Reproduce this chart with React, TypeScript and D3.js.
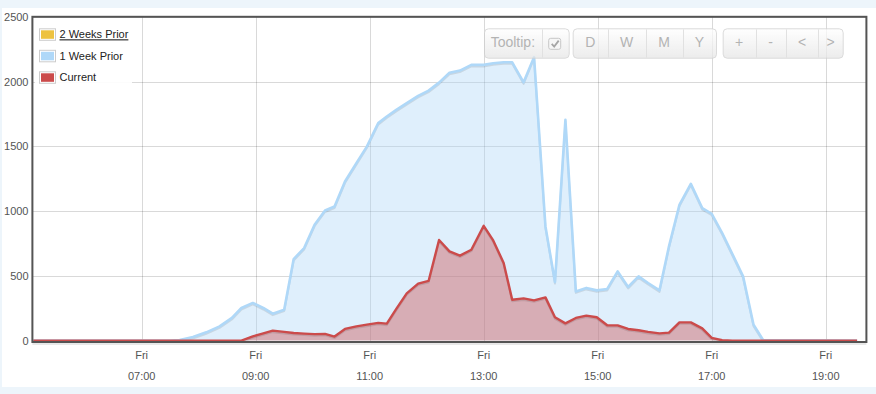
import React from "react";
import * as d3 from "d3";

// ---- data ----
const times = [
  "05:06", "07:30", "07:40", "07:54", "08:08", "08:22", "08:35", "08:45", "08:57", "09:08",
  "09:18", "09:30", "09:40", "09:51", "10:02", "10:13", "10:23", "10:34", "10:46", "10:57",
  "11:09", "11:18", "11:28", "11:39", "11:51", "12:02", "12:13", "12:24", "12:35", "12:47",
  "13:00", "13:10", "13:21", "13:30", "13:42", "13:53", "14:05", "14:15", "14:26", "14:37",
  "14:48", "14:59", "15:10", "15:21", "15:32", "15:43", "15:53", "16:05", "16:15", "16:26",
  "16:38", "16:50", "17:00", "17:11", "17:22", "17:33", "17:44", "17:54", "19:33",
];

const weekPrior = [
  0, 0, 5, 28, 64, 110, 175, 252, 291, 252,
  208, 239, 630, 715, 895, 1005, 1036, 1229, 1371, 1499,
  1680, 1731, 1782, 1834, 1890, 1931, 1993, 2070, 2086, 2130,
  2130, 2143, 2150, 2150, 1995, 2190, 882, 452, 1705, 380,
  407, 388, 399, 535, 414, 496, 445, 388, 728, 1049,
  1211, 1024, 980, 831, 664, 496, 123, 5, 0,
];

const current = [
  0, 0, 0, 0, 0, 0, 0, 0, 33, 56,
  77, 67, 59, 54, 50, 52, 31, 90, 110, 123,
  137, 131, 245, 365, 440, 461, 777, 689, 656, 702,
  887, 774, 600, 316, 326, 311, 334, 180, 133, 175,
  193, 180, 118, 118, 90, 80, 67, 56, 62, 141,
  141, 94, 21, 3, 0, 0, 0, 0, 0,
];

const xTicks = ["07:00", "09:00", "11:00", "13:00", "15:00", "17:00", "19:00"];
const yTicks = [0, 500, 1000, 1500, 2000, 2500];
const legendNames = ["2 Weeks Prior", "1 Week Prior", "Current"];
const legendColors = ["#edc240", "#afd8f8", "#cb4b4b"];
const toolbarLabels = [
  ["Tooltip:", "check"],
  ["D", "W", "M", "Y"],
  ["+", "-", "<", ">"],
];

const DAY = "2014-01-03"; // a Friday
const parseT = d3.timeParse("%Y-%m-%d %H:%M");
const toDate = (t: string) => parseT(`${DAY} ${t}`) as Date;

const FONT = "'Liberation Sans', Arial, sans-serif";

export default function App() {
  const x = d3
    .scaleTime()
    .domain([toDate("05:05"), toDate("19:43")])
    .range([32.4, 866.6]);
  const y = d3.scaleLinear().domain([0, 2500]).range([340.6, 17]);

  const fmtDay = d3.timeFormat("%a");
  const fmtTime = d3.timeFormat("%H:%M");

  const blue = times.map((t, i) => ({ d: toDate(t), v: weekPrior[i] }));
  const red = times.map((t, i) => ({ d: toDate(t), v: current[i] }));

  const area = d3
    .area<{ d: Date; v: number }>()
    .x((p) => x(p.d))
    .y0(y(0))
    .y1((p) => y(p.v));
  const line = d3
    .line<{ d: Date; v: number }>()
    .x((p) => x(p.d))
    .y((p) => y(p.v));

  const plotL = 32.4, plotT = 16.8, plotR = 866.4, plotB = 342;

  // toolbar layout
  const groupX = [484, 572.7, 722.7];
  const groupW = [[57.7, 27], [35, 38, 37, 33.3], [33, 30, 32.6, 24.4]];
  const btnY = 28.3, btnH = 29.4;

  return (
    <div
      style={{
        position: "absolute",
        left: 0,
        top: 0,
        width: 876,
        height: 394,
        background: "#edf5fb",
        overflow: "hidden",
      }}
    >
      <svg width={876} height={394} style={{ display: "block" }}>
        <defs>
          <clipPath id="plotClip">
            <rect x={plotL} y={plotT} width={plotR - plotL} height={plotB - plotT} />
          </clipPath>
          <linearGradient id="btnGrad" x1="0" y1="0" x2="0" y2="1">
            <stop offset="0" stopColor="#ffffff" />
            <stop offset="1" stopColor="#e6e6e6" />
          </linearGradient>
        </defs>
        <rect x={2} y={8} width={880} height={379} fill="#ffffff" />

        {/* grid */}
        <g stroke="rgba(0,0,0,0.15)" strokeWidth={1}>
          {yTicks.map((t) => (
            <line key={"gy" + t} x1={plotL} x2={plotR} y1={Math.round(y(t)) + 0.5} y2={Math.round(y(t)) + 0.5} />
          ))}
          {xTicks.map((t) => (
            <line key={"gx" + t} x1={Math.round(x(toDate(t))) + 0.5} x2={Math.round(x(toDate(t))) + 0.5} y1={plotT} y2={plotB} />
          ))}
        </g>

        <g clipPath="url(#plotClip)">
          {/* 1 week prior */}
          <path d={area(blue) || ""} fill="#afd8f8" fillOpacity={0.4} />
          <path d={line(blue) || ""} fill="none" stroke="rgba(0,0,0,0.1)" strokeWidth={2} transform="translate(0,1.5)" strokeLinejoin="round" />
          <path d={line(blue) || ""} fill="none" stroke="#afd8f8" strokeWidth={2.6} strokeLinejoin="round" />
          {/* current */}
          <path d={area(red) || ""} fill="#cb4b4b" fillOpacity={0.4} />
          <path d={line(red) || ""} fill="none" stroke="rgba(0,0,0,0.1)" strokeWidth={2} transform="translate(0,1.5)" strokeLinejoin="round" />
          <path d={line(red) || ""} fill="none" stroke="#cb4b4b" strokeWidth={2.4} strokeLinejoin="round" />
        </g>

        {/* border */}
        <rect
          x={plotL}
          y={plotT}
          width={plotR - plotL}
          height={plotB - plotT}
          fill="none"
          stroke="#545454"
          strokeWidth={2}
        />
        <line x1={plotL} x2={plotR} y1={plotB + 2} y2={plotB + 2} stroke="rgba(0,0,0,0.12)" strokeWidth={1.5} />

        {/* y labels */}
        <g fontFamily={FONT} fontSize={11} fill="#545454" textAnchor="end">
          {yTicks.map((t) => (
            <text key={"yl" + t} x={28.5} y={y(t) + 4}>
              {t}
            </text>
          ))}
        </g>

        {/* x labels */}
        <g fontFamily={FONT} fontSize={11} fill="#545454" textAnchor="middle">
          {xTicks.map((t) => {
            const d = toDate(t);
            return (
              <g key={"xl" + t}>
                <text x={x(d)} y={359}>
                  {fmtDay(d)}
                </text>
                <text x={x(d)} y={379.5}>
                  {fmtTime(d)}
                </text>
              </g>
            );
          })}
        </g>

        {/* legend */}
        <rect x={35} y={24} width={97} height={62} fill="#ffffff" opacity={0.9} />
        <g fontFamily={FONT} fontSize={11} fill="#222">
          {legendNames.map((n, i) => {
            const cy = 34.3 + i * 21.5;
            return (
              <g key={n}>
                <rect x={39.5} y={cy - 5.5} width={16} height={11.5} fill="#ffffff" stroke="#cccccc" strokeWidth={1} />
                <rect x={41} y={cy - 4} width={13} height={8.5} fill={legendColors[i]} />
                <text x={59.5} y={cy + 4} textDecoration={i === 0 ? "underline" : undefined}>
                  {n}
                </text>
              </g>
            );
          })}
        </g>

        {/* toolbar */}
        <g fontFamily={FONT} fontSize={14} opacity={0.75}>
          {toolbarLabels.map((grp, gi) => {
            const widths = groupW[gi];
            const total = widths.reduce((a, b) => a + b, 0);
            let cx = groupX[gi];
            const segs = widths.map((w, si) => {
              const s = { x: cx, w, label: grp[si] };
              cx += w;
              return s;
            });
            return (
              <g key={"tb" + gi}>
                <rect
                  x={groupX[gi] + 0.5}
                  y={btnY + 0.5}
                  width={total}
                  height={btnH}
                  rx={4}
                  fill="url(#btnGrad)"
                  stroke="#cfcfcf"
                  strokeWidth={1}
                />
                {segs.map((s, si) => (
                  <g key={si}>
                    {si > 0 && (
                      <line
                        x1={Math.round(s.x) + 0.5}
                        x2={Math.round(s.x) + 0.5}
                        y1={btnY + 1}
                        y2={btnY + btnH}
                        stroke="#d8d8d8"
                      />
                    )}
                    {s.label === "check" ? (
                      <g>
                        <rect
                          x={s.x + s.w / 2 - 6.5}
                          y={btnY + 10}
                          width={12}
                          height={11}
                          rx={2}
                          fill="#f4f4f4"
                          stroke="#b5b5b5"
                        />
                        <path
                          d={`M${s.x + s.w / 2 - 3.5},${btnY + 15.5} l2.5,2.8 l4.5,-6`}
                          fill="none"
                          stroke="#888"
                          strokeWidth={1.8}
                        />
                      </g>
                    ) : (
                      <text
                        x={s.x + s.w / 2}
                        y={btnY + 18.5}
                        textAnchor="middle"
                        fill="#9a9a9a"
                      >
                        {s.label}
                      </text>
                    )}
                  </g>
                ))}
              </g>
            );
          })}
        </g>
      </svg>
    </div>
  );
}
